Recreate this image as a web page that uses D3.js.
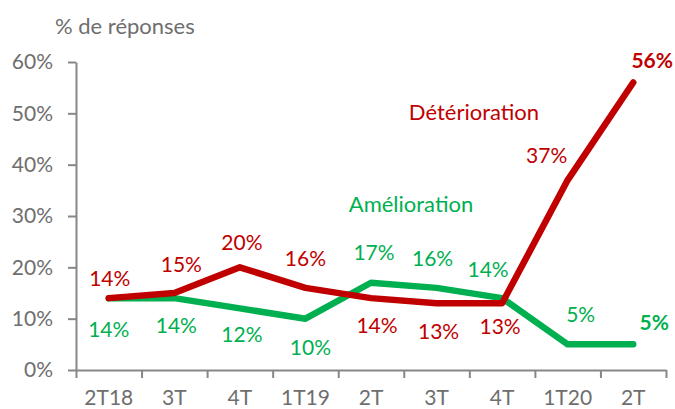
<!DOCTYPE html>
<html>
<head>
<meta charset="utf-8">
<script src="https://cdn.jsdelivr.net/npm/d3@7"></script>
<style>
  body { margin: 0; background: #fff; }
  text { font-family: Lato, "Open Sans", sans-serif; }
</style>
</head>
<body>
<script>
const categories = ['2T18', '3T', '4T', '1T19', '2T', '3T', '4T', '1T20', '2T'];
const deterioration = [14, 15, 20, 16, 14, 13, 13, 37, 56];
const amelioration = [14, 14, 12, 10, 17, 16, 14, 5, 5];
const yTicks = [0, 10, 20, 30, 40, 50, 60];

// label offsets (dx, dy from the point, px)
const detLabelPos = [[1, -12], [7, -21], [2, -17], [0, -22], [6, 35], [2, 36], [-2, 31], [-21, -17], [19, -15]];
const amelLabelPos = [[0, 39], [2, 35], [2, 34], [5, 36], [3, -23], [-4, -22], [-14, -21], [13, -22], [21, -14]];

const width = 675, height = 409;
const plotLeft = 76, plotRight = 666, plotTop = 62, plotBottom = 370;
const red = '#c00000', green = '#00b050', grey = '#6e6e6e', axisGrey = '#878787';

const svg = d3.select('body')
  .append('svg')
  .attr('width', width)
  .attr('height', height);

const xScale = d3.scaleBand()
  .domain(d3.range(categories.length))
  .range([plotLeft, plotRight]);

const xEdges = d3.scaleLinear()
  .domain([0, categories.length])
  .range([plotLeft, plotRight]);

const yScale = d3.scaleLinear()
  .domain([0, 60])
  .range([plotBottom, plotTop]);

const xCenter = i => xScale(i) + xScale.bandwidth() / 2;

// y axis
const yAxis = d3.axisLeft(yScale)
  .tickValues(yTicks)
  .tickFormat(d => d + '%')
  .tickSize(8)
  .tickSizeOuter(0)
  .tickPadding(15);

const gy = svg.append('g')
  .attr('transform', `translate(${plotLeft}, 0)`)
  .call(yAxis);

// x axis: ticks on category edges, labels in the middle
const xAxis = d3.axisBottom(xEdges)
  .tickValues(d3.range(categories.length + 1))
  .tickFormat('')
  .tickSize(8)
  .tickSizeOuter(0);

const gx = svg.append('g')
  .attr('transform', `translate(0, ${plotBottom})`)
  .call(xAxis);

[gx, gy].forEach(g => {
  g.selectAll('path, line').attr('stroke', axisGrey).attr('stroke-width', 2);
  g.selectAll('text').attr('fill', grey).style('font-size', '21px');
});

svg.append('g').selectAll('text')
  .data(categories)
  .enter()
  .append('text')
  .attr('x', (_, i) => xCenter(i))
  .attr('y', 405)
  .attr('text-anchor', 'middle')
  .attr('fill', grey)
  .style('font-size', '21px')
  .text(d => d);

// title
svg.append('text')
  .attr('x', 55)
  .attr('y', 34)
  .attr('fill', grey)
  .style('font-size', '22px')
  .text('% de réponses');

const line = d3.line()
  .x((_, i) => xCenter(i))
  .y(d => yScale(d));

function drawSeries(values, color, labelPos) {
  svg.append('path')
    .datum(values)
    .attr('d', line)
    .attr('fill', 'none')
    .attr('stroke', color)
    .attr('stroke-width', 6.5)
    .attr('stroke-linecap', 'round')
    .attr('stroke-linejoin', 'round');

  svg.append('g').selectAll('text')
    .data(values)
    .enter()
    .append('text')
    .attr('x', (_, i) => xCenter(i) + labelPos[i][0])
    .attr('y', (d, i) => yScale(d) + labelPos[i][1])
    .attr('text-anchor', 'middle')
    .attr('fill', color)
    .style('font-size', '21px')
    .style('font-weight', (_, i) => i === values.length - 1 ? 'bold' : 'normal')
    .text(d => d + '%');
}

drawSeries(amelioration, green, amelLabelPos);
drawSeries(deterioration, red, detLabelPos);

// series names
svg.append('text')
  .attr('x', 474)
  .attr('y', 120)
  .attr('text-anchor', 'middle')
  .attr('fill', red)
  .style('font-size', '22px')
  .text('Détérioration');

svg.append('text')
  .attr('x', 411)
  .attr('y', 212)
  .attr('text-anchor', 'middle')
  .attr('fill', green)
  .style('font-size', '22px')
  .text('Amélioration');
</script>
</body>
</html>
